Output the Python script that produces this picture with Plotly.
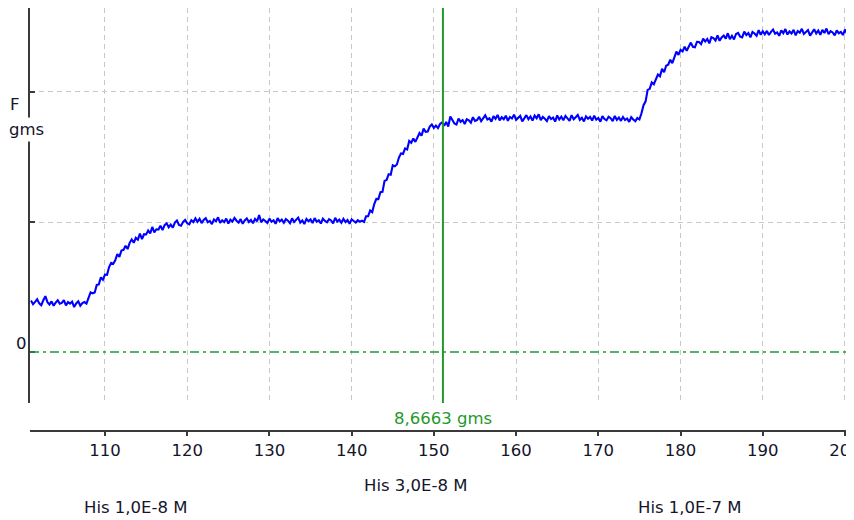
import plotly.graph_objects as go

# ---- data -------------------------------------------------------------
T0 = 101.0          # first sample time
DT = 0.25           # sampling step
# fluorescence trace (gms), segment by segment
seg_baseline = [1.98, 1.84, 1.93, 2.03, 1.87, 1.80, 1.99, 2.15, 1.92, 1.83,
                1.95, 1.78, 1.90, 1.99, 1.86, 1.89, 2.00, 1.79, 1.92, 1.86,
                1.94, 1.73, 1.87, 1.95, 1.78, 1.88]
seg_rise1 = [1.92, 1.86, 2.08, 2.29, 2.26, 2.29, 2.58, 2.60, 2.87, 2.78,
             2.98, 2.97, 3.27, 3.43, 3.39, 3.53, 3.77, 3.66, 3.90, 3.93,
             4.09, 3.96, 4.20, 4.33, 4.20, 4.39, 4.32, 4.55, 4.34, 4.53,
             4.52, 4.67, 4.56, 4.81, 4.60, 4.72, 4.71, 4.86, 4.69, 4.88,
             4.95, 4.80, 4.90, 4.78, 4.98, 5.06, 4.89, 4.86, 5.00, 5.08,
             4.95, 4.91, 5.07, 5.00, 5.14]
seg_plateau1 = [5.01, 5.12, 4.96, 5.08, 5.15, 4.99, 5.04, 4.92, 5.10, 5.03,
                5.18, 4.97, 5.07, 5.00, 5.13, 4.94, 5.09, 5.02, 5.16, 5.05,
                4.98, 5.11, 4.93, 5.06, 5.14, 5.00, 5.08, 4.95, 5.12, 5.03,
                5.27, 4.99, 5.10, 5.04, 4.96, 5.13, 5.01, 5.07, 4.93, 5.15,
                5.02, 5.09, 4.97, 5.11, 5.05, 4.95, 5.14, 5.00, 5.08, 5.17,
                4.98, 5.06, 4.92, 5.12, 5.03, 5.10, 4.96, 5.15, 5.01, 5.07,
                4.94, 5.13, 5.04, 4.99, 5.11, 5.06, 4.95, 5.16, 5.02, 5.09,
                4.97, 5.12, 5.00, 5.08, 4.93, 5.10, 5.04, 4.98, 5.07, 5.01,
                5.05]
seg_rise2 = [5.00, 5.22, 5.22, 5.44, 5.38, 5.69, 5.89, 5.88, 6.15, 6.16,
             6.58, 6.62, 6.84, 6.82, 7.18, 7.14, 7.21, 7.48, 7.64, 7.62,
             7.83, 7.79, 8.12, 8.05, 8.21, 8.08, 8.28, 8.42, 8.32, 8.59,
             8.47, 8.48, 8.67, 8.75, 8.62, 8.71, 8.61, 8.77, 8.83, 8.70,
             8.85, 8.67, 9.06, 8.92, 8.79, 8.75, 8.98, 8.85, 8.92, 8.77,
             8.95, 8.91, 8.82, 9.03, 8.89]
seg_plateau2 = [8.92, 9.05, 8.88, 9.01, 9.10, 8.94, 8.99, 8.86, 9.07, 8.97,
                9.12, 8.91, 9.03, 8.95, 9.09, 8.89, 9.04, 8.98, 9.13, 8.93,
                9.00, 9.08, 8.87, 9.02, 9.11, 8.95, 9.06, 8.90, 9.09, 8.99,
                9.14, 8.92, 9.04, 8.97, 8.88, 9.07, 8.96, 9.02, 8.86, 9.10,
                8.94, 9.05, 8.91, 9.08, 8.99, 8.89, 9.11, 8.95, 9.03, 9.12,
                8.93, 9.01, 8.87, 9.06, 8.97, 9.04, 8.90, 9.09, 8.94, 9.00,
                8.86, 9.07, 8.96, 8.91, 9.05, 8.99, 8.88, 9.08, 8.93, 9.02,
                8.89, 9.04, 8.92, 8.98, 8.85, 9.03, 8.94, 8.88, 9.00, 8.95,
                9.18]
seg_rise3 = [9.49, 9.64, 10.08, 10.12, 10.37, 10.30, 10.52, 10.67, 10.60, 10.89,
             10.76, 11.01, 11.05, 11.24, 11.11, 11.37, 11.55, 11.43, 11.62, 11.56,
             11.74, 11.59, 11.73, 11.90, 11.74, 11.72, 11.93, 11.92, 11.84, 12.05,
             11.94, 12.04, 11.87, 12.11, 12.07, 11.98, 12.18, 11.97, 12.10, 12.17,
             12.05, 12.26, 12.03, 12.16, 12.02, 12.23, 12.27, 12.13, 12.10, 12.32,
             12.19, 12.27, 12.10, 12.31, 12.25, 12.16, 12.38, 12.20, 12.34]
seg_plateau3 = [12.22, 12.35, 12.19, 12.31, 12.40, 12.24, 12.29, 12.16, 12.37, 12.26,
                12.42, 12.21, 12.33, 12.25, 12.39, 12.18, 12.34, 12.28, 12.43, 12.23,
                12.30, 12.38, 12.17, 12.32, 12.41, 12.25, 12.36, 12.20, 12.39, 12.27,
                12.44, 12.22, 12.34, 12.29, 12.18, 12.37, 12.26, 12.31, 12.19, 12.40,
                12.24, 12.33]

signal = (seg_baseline + seg_rise1 + seg_plateau1 + seg_rise2 +
          seg_plateau2 + seg_rise3 + seg_plateau3)
times = [T0 + i * DT for i in range(len(signal))]

x_ticks = [110, 120, 130, 140, 150, 160, 170, 180, 190, 200]
x_tick_labels = ["110", "120", "130", "140", "150", "160", "170", "180", "190", "200"]
y_ticks = [0, 5, 10]
y_grid = [5, 10]

cursor_x = 151.1
cursor_label = "8,6663 gms"

event_times = [107.2, 141.26, 174.58]
event_labels = ["His 1,0E-8 M", "His 3,0E-8 M", "His 1,0E-7 M"]
event_rows = [-0.182, -0.128, -0.182]

X_RANGE = [100.88, 200.61]
Y_RANGE = [-1.96, 13.23]

# ---- style ------------------------------------------------------------
GREEN = "#23992b"
AXIS = "#3a3a3a"
GRID = "#c8c8c8"
TXT = "#14142a"
FONT = "DejaVu Sans"
FS = 16.5

fig = go.Figure()
fig.add_trace(go.Scatter(x=times, y=signal, mode="lines",
                         line=dict(color="#0000ff", width=2.1),
                         hoverinfo="skip"))
# empty trace to carry the detached bottom axis
fig.add_trace(go.Scatter(x=[], y=[], xaxis="x2", yaxis="y", hoverinfo="skip"))

# zero line (dash-dot) and cursor line
fig.add_shape(type="line", xref="x domain", x0=0, x1=1, yref="y", y0=0, y1=0,
              line=dict(color=GREEN, width=1.5, dash="9px,4px,3px,4px"))
fig.add_shape(type="line", xref="x", x0=cursor_x, x1=cursor_x,
              yref="y domain", y0=0, y1=1,
              line=dict(color=GREEN, width=2))

# page body has an 8px margin: size the figure to fit the 854x520 window
fig.update_layout(
    width=846, height=512,
    margin=dict(l=22, r=4, t=0, b=89, autoexpand=False),
    paper_bgcolor="white", plot_bgcolor="white",
    showlegend=False,
    font=dict(family=FONT, size=FS, color=TXT),
    xaxis=dict(range=X_RANGE, anchor="y", tickmode="array", tickvals=x_ticks,
               showticklabels=False, ticks="", showline=False, zeroline=False,
               automargin=False,
               showgrid=True, gridcolor=GRID, gridwidth=1, griddash="5px,4px"),
    xaxis2=dict(range=X_RANGE, overlaying="x", anchor="free", position=0,
                side="bottom", tickmode="array", tickvals=x_ticks,
                ticktext=x_tick_labels, ticks="outside", ticklen=4,
                tickwidth=1.5, tickcolor=AXIS, showline=True, linecolor=AXIS,
                linewidth=2, showgrid=False, zeroline=False,
                ticklabeloverflow="allow", automargin=False,
                tickfont=dict(family=FONT, size=FS, color=TXT)),
    yaxis=dict(domain=[28 / 423, 1], range=Y_RANGE, tickmode="array",
               tickvals=y_ticks, showticklabels=False, ticks="inside",
               ticklen=5, tickwidth=1.5, tickcolor=AXIS, showline=True,
               linecolor=AXIS, linewidth=2, showgrid=False, zeroline=False,
               automargin=False,
               minor=dict(tickmode="array", tickvals=y_grid, showgrid=True,
                          gridcolor=GRID, gridwidth=1, griddash="5px,4px",
                          ticks="")),
)

ann = []
ann.append(dict(text="F", xref="paper", x=0, xshift=-22, xanchor="left",
                yref="y", y=9.5, yanchor="middle", showarrow=False,
                font=dict(family=FONT, size=FS, color=TXT)))
ann.append(dict(text="gms", xref="paper", x=0, xshift=-24, xanchor="left",
                yref="y", y=8.54, yanchor="middle", showarrow=False,
                bgcolor="white", borderpad=2,
                font=dict(family=FONT, size=FS, color=TXT)))
ann.append(dict(text=str(y_ticks[0]), xref="paper", x=0, xshift=-1,
                xanchor="right", yref="y", y=0, yshift=9, yanchor="middle",
                showarrow=False, font=dict(family=FONT, size=FS, color=TXT)))
ann.append(dict(text=cursor_label, xref="x", x=cursor_x, xanchor="center",
                yref="paper", y=13 / 423, yanchor="middle", showarrow=False,
                font=dict(family=FONT, size=FS, color=GREEN)))
for t, lab, row in zip(event_times, event_labels, event_rows):
    ann.append(dict(text=lab, xref="x", x=t, xanchor="left",
                    yref="paper", y=row, yanchor="middle", showarrow=False,
                    font=dict(family=FONT, size=FS, color=TXT)))
fig.update_layout(annotations=ann)

fig.write_html("out.html")
